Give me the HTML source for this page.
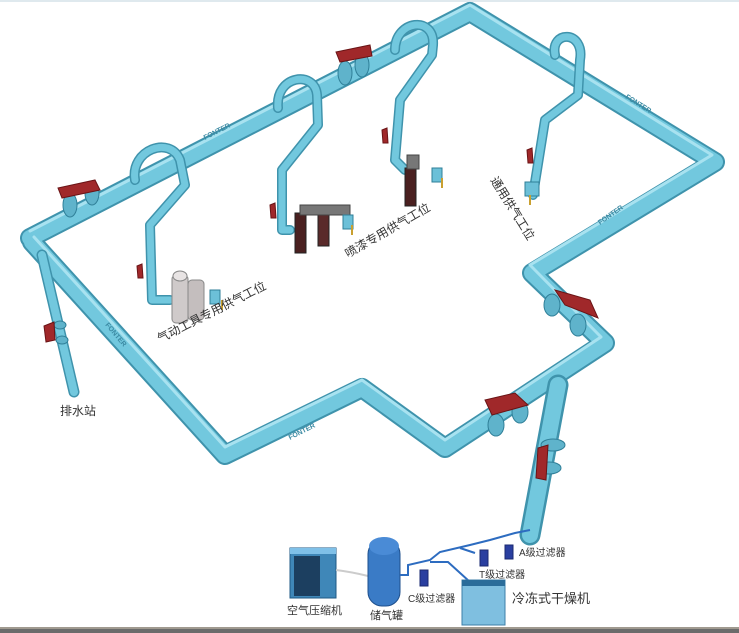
<!DOCTYPE html>
<html><head><meta charset="utf-8"><style>
html,body{margin:0;padding:0;background:#fff;}
svg{display:block;}
text{font-family:"Liberation Sans","Noto Sans CJK SC",sans-serif;fill:#333;}
.p1{fill:none;stroke:#3f93ac;stroke-linejoin:round;stroke-linecap:round;}
.p2{fill:none;stroke:#72c8de;stroke-linejoin:round;stroke-linecap:round;}
.p3{fill:none;stroke:#a8e2f0;stroke-linejoin:round;stroke-linecap:round;}
.v{fill:#a0282a;stroke:#6a1416;stroke-width:1;}
.fl{fill:#5fb3cb;stroke:#2f7f98;stroke-width:1;}
.fo{font-size:7px;fill:#3b8aa3;font-weight:bold;}
</style></head><body>
<svg width="739" height="633" viewBox="0 0 739 633">
<rect width="739" height="633" fill="#fff"/>
<line x1="0" y1="1" x2="739" y2="1" stroke="#dfe9ee" stroke-width="2"/>
<g>
<polyline class="p1" stroke-width="20" points="30,238 470,12 715,162 532,273 605,343 445,448 362,388 225,455 32,242"/>
<polyline class="p2" stroke-width="16" points="30,238 470,12 715,162 532,273 605,343 445,448 362,388 225,455 32,242"/>
<polyline class="p3" stroke-width="3" points="30,234 470,8 712,158 530,268 601,340 445,443 362,383 225,450 34,240" transform="translate(0,-3)"/>
<polyline class="p1" stroke-width="21" points="558,385 530,535"/>
<polyline class="p2" stroke-width="16" points="558,385 530,535"/>
<polyline class="p1" stroke-width="11" points="42,255 74,392"/>
<polyline class="p2" stroke-width="8" points="42,255 74,392"/>
<g stroke-width="10">
<path class="p1" d="M135,180 C130,150 170,135 180,160 L185,185 L150,225 L152,300 L170,300"/>
<path class="p2" stroke-width="7" d="M135,180 C130,150 170,135 180,160 L185,185 L150,225 L152,300 L170,300"/>
<path class="p1" d="M278,108 C275,75 315,70 317,95 L318,125 L282,170 L282,230 L290,230"/>
<path class="p2" stroke-width="7" d="M278,108 C275,75 315,70 317,95 L318,125 L282,170 L282,230 L290,230"/>
<path class="p1" d="M395,50 C395,20 435,15 433,45 L432,55 L400,100 L395,160 L405,170"/>
<path class="p2" stroke-width="7" d="M395,50 C395,20 435,15 433,45 L432,55 L400,100 L395,160 L405,170"/>
<path class="p1" d="M555,55 C550,30 585,30 580,60 L578,95 L545,120 L533,195"/>
<path class="p2" stroke-width="7" d="M555,55 C550,30 585,30 580,60 L578,95 L545,120 L533,195"/>
</g>
</g>
<g class="fl">
<ellipse cx="70" cy="205" rx="7" ry="12"/><ellipse cx="92" cy="193" rx="7" ry="12"/>
<ellipse cx="345" cy="73" rx="7" ry="12"/><ellipse cx="362" cy="65" rx="7" ry="12"/>
<ellipse cx="552" cy="305" rx="8" ry="11"/><ellipse cx="578" cy="325" rx="8" ry="11"/>
<ellipse cx="496" cy="425" rx="8" ry="11"/><ellipse cx="520" cy="412" rx="8" ry="11"/>
<ellipse cx="553" cy="445" rx="12" ry="6"/><ellipse cx="549" cy="468" rx="12" ry="6"/>
<ellipse cx="60" cy="325" rx="6" ry="4"/><ellipse cx="62" cy="340" rx="6" ry="4"/>
</g>
<g class="v">
<path d="M58,188 L95,180 L100,190 L62,198 Z"/>
<path d="M336,52 L370,45 L372,56 L340,62 Z"/>
<path d="M555,290 L590,300 L598,318 L565,305 Z"/>
<path d="M485,400 L515,393 L528,405 L492,415 Z"/>
<path d="M538,448 L548,445 L546,480 L536,478 Z"/>
<path d="M44,326 L54,322 L55,340 L46,342 Z"/>
<path d="M137,266 L142,264 L143,278 L138,278 Z"/>
<path d="M270,205 L275,203 L276,218 L271,218 Z"/>
<path d="M382,130 L387,128 L388,143 L383,143 Z"/>
<path d="M527,150 L532,148 L533,163 L528,163 Z"/>
</g>
<g>
<rect x="172" y="275" width="16" height="48" rx="4" fill="#cfcaca" stroke="#888"/>
<rect x="188" y="280" width="16" height="40" rx="4" fill="#c4bebe" stroke="#888"/>
<ellipse cx="180" cy="276" rx="7" ry="5" fill="#e8e4e4" stroke="#888"/>
<rect x="210" y="290" width="10" height="14" fill="#6cc0d8" stroke="#2f7f98"/>
<rect x="295" y="213" width="11" height="40" fill="#4a2020" stroke="#222"/>
<rect x="318" y="208" width="11" height="38" fill="#5a2a2a" stroke="#222"/>
<rect x="300" y="205" width="50" height="10" fill="#777" stroke="#444"/>
<rect x="343" y="215" width="10" height="14" fill="#6cc0d8" stroke="#2f7f98"/>
<rect x="405" y="168" width="11" height="38" fill="#4a2020" stroke="#222"/>
<rect x="407" y="155" width="12" height="14" fill="#777" stroke="#444"/>
<rect x="432" y="168" width="10" height="14" fill="#6cc0d8" stroke="#2f7f98"/>
<rect x="525" y="182" width="14" height="14" fill="#6cc0d8" stroke="#2f7f98"/>
<g stroke="#c9a030" stroke-width="2"><line x1="222" y1="300" x2="222" y2="310"/><line x1="352" y1="225" x2="352" y2="235"/><line x1="442" y1="178" x2="442" y2="188"/><line x1="530" y1="195" x2="530" y2="205"/></g>
</g>
<text class="fo" transform="translate(205,140) rotate(-27)">FONTER</text>
<text class="fo" transform="translate(625,98) rotate(32)">FONTER</text>
<text class="fo" transform="translate(600,225) rotate(-35)">FONTER</text>
<text class="fo" transform="translate(105,325) rotate(50)">FONTER</text>
<text class="fo" transform="translate(290,440) rotate(-27)">FONTER</text>
<text font-size="12" transform="translate(160,343) rotate(-27)">气动工具专用供气工位</text>
<text font-size="12" transform="translate(348,258) rotate(-30)">喷漆专用供气工位</text>
<text font-size="12" transform="translate(490,180) rotate(58)">通用供气工位</text>
<text font-size="12" x="60" y="415">排水站</text>
<rect x="290" y="548" width="46" height="50" fill="#3f87b8" stroke="#1f5a85"/>
<rect x="294" y="556" width="26" height="40" fill="#1c3f60"/>
<rect x="290" y="548" width="46" height="6" fill="#7fc0e8"/>
<path d="M336,570 Q352,572 368,576" fill="none" stroke="#ccc" stroke-width="2"/>
<rect x="368" y="540" width="32" height="66" rx="14" fill="#3a7bc6" stroke="#1e4f8c"/>
<ellipse cx="384" cy="546" rx="15" ry="9" fill="#4a8bd6"/>
<g fill="none" stroke="#2d6cc0" stroke-width="2">
<path d="M400,575 L408,575 L408,565 L430,560 L440,552 L470,545 L490,540 L515,533 L530,530"/>
<path d="M430,562 L448,562 L470,582"/>
<path d="M460,548 L475,553"/>
</g>
<g fill="#2a3fa0" stroke="#1a2870">
<rect x="420" y="570" width="8" height="16"/><rect x="480" y="550" width="8" height="16"/><rect x="505" y="545" width="8" height="14"/>
</g>
<rect x="462" y="580" width="43" height="45" fill="#7fbfe0" stroke="#3d7fa8"/>
<rect x="462" y="580" width="43" height="6" fill="#2a6c9a"/>
<text font-size="11" x="287" y="614">空气压缩机</text>
<text font-size="11" x="370" y="619">储气罐</text>
<text font-size="10" x="408" y="602">C级过滤器</text>
<text font-size="10" x="479" y="578">T级过滤器</text>
<text font-size="10" x="519" y="556">A级过滤器</text>
<text font-size="13" x="512" y="603">冷冻式干燥机</text>
<rect x="0" y="627" width="739" height="6" fill="#6b6b6b"/>
<rect x="0" y="627" width="739" height="2" fill="#a09a90"/>
</svg>
</body></html>
